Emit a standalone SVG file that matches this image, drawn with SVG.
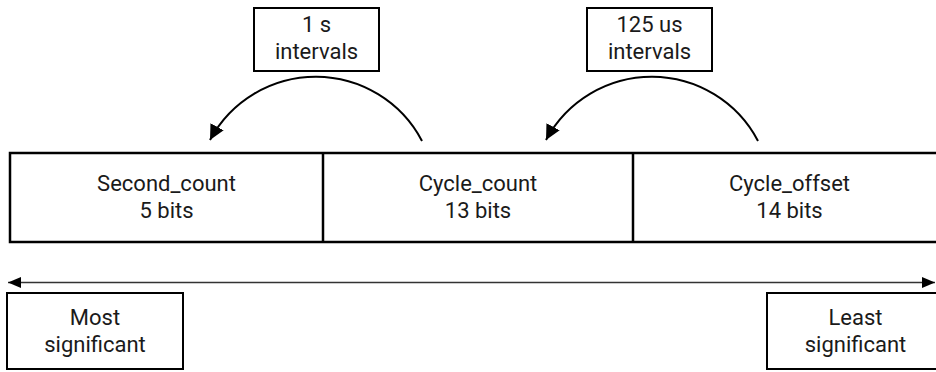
<svg xmlns="http://www.w3.org/2000/svg" width="936" height="372" viewBox="0 0 936 372">
<style>
  .box { fill: #ffffff; stroke: #000000; stroke-width: 2; }
  .main { fill: #ffffff; stroke: #000000; stroke-width: 2.5; }
  .lbl { font-family: Roboto, "Liberation Sans", sans-serif; font-size: 22px; fill: #1a1a1a; text-anchor: middle; }
  .arc { fill: none; stroke: #000000; stroke-width: 2; }
  .axis { fill: none; stroke: #333333; stroke-width: 1.5; }
</style>
<defs>
  <marker id="ah" markerUnits="userSpaceOnUse" markerWidth="16" markerHeight="16" refX="15" refY="7.5" orient="auto">
    <path d="M0,0 L15,7.5 L0,15 z" fill="#000000"/>
  </marker>
  <marker id="ha" markerUnits="userSpaceOnUse" markerWidth="14" markerHeight="12" refX="13" refY="5.5" orient="auto-start-reverse">
    <path d="M0,0 L13,5.5 L0,11 z" fill="#000000"/>
  </marker>
</defs>
<rect width="936" height="372" fill="#ffffff"/>

<g id="word">
  <rect class="main" x="10" y="153" width="940" height="89"/>
</g>
<g id="second_count">
  <line x1="323" y1="153" x2="323" y2="242" stroke="#000" stroke-width="2.5"/>
  <text class="lbl" x="166.5" y="191">Second_count</text>
  <text class="lbl" x="166.5" y="218">5 bits</text>
</g>
<g id="cycle_count">
  <line x1="633" y1="153" x2="633" y2="242" stroke="#000" stroke-width="2.5"/>
  <text class="lbl" x="478" y="191">Cycle_count</text>
  <text class="lbl" x="478" y="218">13 bits</text>
</g>
<g id="cycle_offset">
  <text class="lbl" x="789.5" y="191">Cycle_offset</text>
  <text class="lbl" x="789.5" y="218">14 bits</text>
</g>

<g id="interval_1s">
  <rect class="box" x="254" y="8" width="125" height="63"/>
  <text class="lbl" x="316.5" y="32">1 s</text>
  <text class="lbl" x="316.5" y="59">intervals</text>
</g>
<g id="interval_125us">
  <rect class="box" x="587" y="8" width="125" height="63"/>
  <text class="lbl" x="649.5" y="32">125 us</text>
  <text class="lbl" x="649.5" y="59">intervals</text>
</g>

<g id="most_significant">
  <rect class="box" x="7" y="293" width="176" height="76"/>
  <text class="lbl" x="95" y="325">Most</text>
  <text class="lbl" x="95" y="352">significant</text>
</g>
<g id="least_significant">
  <rect class="box" x="767" y="293" width="190" height="76"/>
  <text class="lbl" x="855.5" y="325">Least</text>
  <text class="lbl" x="855.5" y="352">significant</text>
</g>

<g id="connectors">
  <path class="arc" d="M422,141 A120,120 0 0 0 210,140" marker-end="url(#ah)"/>
  <path class="arc" d="M758,141 A120,120 0 0 0 546,140" marker-end="url(#ah)"/>
  <line class="axis" x1="8" y1="282.5" x2="935" y2="282.5" marker-start="url(#ha)" marker-end="url(#ha)"/>
</g>
</svg>
